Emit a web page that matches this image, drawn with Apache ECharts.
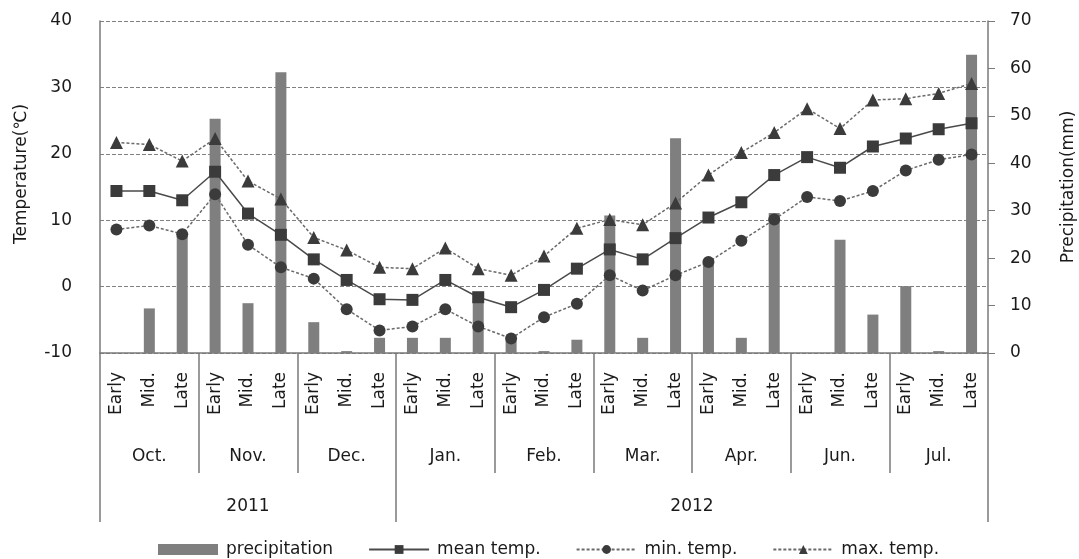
<!DOCTYPE html>
<html>
<head>
<meta charset="utf-8">
<title>Temperature and precipitation</title>
<script src="https://cdn.jsdelivr.net/npm/echarts@6/dist/echarts.min.js"></script>
<style>
html,body{margin:0;padding:0;background:#fff;}
#main{width:1079px;height:559px;}
</style>
</head>
<body>
<div id="main"></div>
<script>
// ten-day periods inside each month
var thirds = ['Early', 'Mid.', 'Late'];
var months = ['Oct.', 'Nov.', 'Dec.', 'Jan.', 'Feb.', 'Mar.', 'Apr.', 'Jun.', 'Jul.'];
var years = ['2011', '2012'];
var monthsPerYear = [3, 6];

var precip = [0, 9.4, 24.6, 49.4, 10.5, 59.2, 6.5, 0.4, 3.2, 3.2, 3.2, 11, 2.5, 0.4, 2.8, 29, 3.2, 45.3, 18.7, 3.2, 29.5, 0, 23.9, 8.1, 14.1, 0.4, 62.9];
var meanT = [14.4, 14.4, 13.0, 17.3, 11.0, 7.8, 4.1, 1.0, -1.9, -2.0, 1.0, -1.6, -3.1, -0.5, 2.7, 5.6, 4.1, 7.3, 10.4, 12.7, 16.8, 19.5, 17.9, 21.1, 22.3, 23.7, 24.6];
var minT = [8.6, 9.2, 7.9, 13.9, 6.3, 2.9, 1.2, -3.4, -6.6, -6.0, -3.4, -6.0, -7.8, -4.6, -2.6, 1.7, -0.6, 1.7, 3.7, 6.9, 10.1, 13.5, 12.9, 14.4, 17.5, 19.1, 19.9];
var maxT = [21.7, 21.4, 18.9, 22.3, 15.9, 13.2, 7.4, 5.5, 2.9, 2.7, 5.8, 2.7, 1.7, 4.6, 8.8, 10.1, 9.3, 12.6, 16.8, 20.2, 23.2, 26.8, 23.8, 28.1, 28.3, 29.1, 30.6];

// one category per ten-day period
var cats = [];
months.forEach(function (m) {
  thirds.forEach(function (t) { cats.push(m + '|' + t); });
});
var n = cats.length;

// month / year separators and label positions (in category units)
var monthTicks = [], monthLabelPos = [];
months.forEach(function (m, i) {
  monthTicks.push(i * 3);
  monthLabelPos.push(i * 3 + 1.5);
});
monthTicks.push(n);
var yearTicks = [0], yearLabelPos = [], acc = 0;
years.forEach(function (y, i) {
  var span = monthsPerYear[i] * 3;
  yearLabelPos.push(acc + span / 2);
  acc += span;
  yearTicks.push(acc);
});

var font = 'DejaVu Sans';
var fs = 17;
var txt = '#1a1a1a';
var axisGray = '#7a7a7a';

var myChart = echarts.init(document.getElementById('main'));
var option = {
  animation: false,
  textStyle: {fontFamily: font},
  grid: {left: 100, right: 91, top: 21, bottom: 206, outerBoundsMode: 'none'},
  legend: {
    left: 153,
    top: 536,
    itemGap: 35,
    itemWidth: 60,
    itemHeight: 11,
    textStyle: {fontFamily: font, fontSize: fs, color: txt, padding: [0, 0, 0, 3]},
    data: [
      {name: 'precipitation', icon: 'rect'},
      'mean temp.', 'min. temp.', 'max. temp.'
    ]
  },
  xAxis: [
    {
      type: 'category',
      data: cats,
      position: 'bottom',
      axisLine: {show: true, onZero: false, lineStyle: {color: axisGray, width: 1.5}},
      axisTick: {show: false},
      axisLabel: {
        interval: 0,
        rotate: 90,
        margin: 19,
        fontFamily: font,
        fontSize: fs,
        color: txt,
        formatter: function (v) { return v.split('|')[1]; }
      },
      splitLine: {show: false}
    },
    {
      type: 'value',
      min: 0,
      max: n,
      position: 'bottom',
      axisLine: {show: false, onZero: false},
      axisTick: {show: true, length: 120, customValues: monthTicks, lineStyle: {color: axisGray, width: 1.5}},
      axisLabel: {
        margin: 95,
        fontFamily: font,
        fontSize: fs,
        color: txt,
        customValues: monthLabelPos,
        formatter: function (v) { return months[Math.round((v - 1.5) / 3)]; }
      },
      splitLine: {show: false}
    },
    {
      type: 'value',
      min: 0,
      max: n,
      position: 'bottom',
      axisLine: {show: false, onZero: false},
      axisTick: {show: true, length: 169, customValues: yearTicks, lineStyle: {color: axisGray, width: 1.5}},
      axisLabel: {
        margin: 145,
        fontFamily: font,
        fontSize: fs,
        color: txt,
        customValues: yearLabelPos,
        formatter: function (v) {
          var i = yearLabelPos.indexOf(v);
          return i >= 0 ? years[i] : '';
        }
      },
      splitLine: {show: false}
    }
  ],
  yAxis: [
    {
      type: 'value',
      name: 'Temperature(℃)',
      nameLocation: 'middle',
      nameRotate: 90,
      nameGap: 70,
      nameTextStyle: {fontFamily: font, fontSize: fs, color: txt, padding: [0, 0, 0, 26]},
      min: -10,
      max: 40,
      interval: 10,
      axisLine: {show: true, onZero: false, lineStyle: {color: axisGray, width: 1.5}},
      axisTick: {show: false},
      axisLabel: {margin: 28, fontFamily: font, fontSize: fs, color: txt},
      splitLine: {show: true, lineStyle: {color: '#808080', type: [4, 2], width: 1}}
    },
    {
      type: 'value',
      name: 'Precipitation(mm)',
      nameLocation: 'middle',
      nameRotate: 90,
      nameGap: 72,
      nameTextStyle: {fontFamily: font, fontSize: fs, color: txt},
      min: 0,
      max: 70,
      interval: 10,
      position: 'right',
      axisLine: {show: true, onZero: false, lineStyle: {color: axisGray, width: 1.5}},
      axisTick: {show: true, inside: false, length: 7, lineStyle: {color: axisGray}},
      axisLabel: {margin: 22, fontFamily: font, fontSize: fs, color: txt},
      splitLine: {show: false}
    }
  ],
  series: [
    {
      name: 'precipitation',
      type: 'bar',
      yAxisIndex: 1,
      barWidth: 11,
      itemStyle: {color: '#7f7f7f'},
      data: precip
    },
    {
      name: 'mean temp.',
      type: 'line',
      symbol: 'rect',
      symbolSize: 12,
      itemStyle: {color: '#3b3b3b'},
      lineStyle: {color: '#4a4a4a', width: 1.5, type: 'solid'},
      data: meanT
    },
    {
      name: 'min. temp.',
      type: 'line',
      symbol: 'circle',
      symbolSize: 12,
      itemStyle: {color: '#3b3b3b'},
      lineStyle: {color: '#6a6a6a', width: 1.5, type: [3, 2]},
      data: minT
    },
    {
      name: 'max. temp.',
      type: 'line',
      symbol: 'triangle',
      symbolSize: 13,
      itemStyle: {color: '#3b3b3b'},
      lineStyle: {color: '#6a6a6a', width: 1.5, type: [3, 2]},
      data: maxT
    }
  ]
};
myChart.setOption(option);
</script>
</body>
</html>
